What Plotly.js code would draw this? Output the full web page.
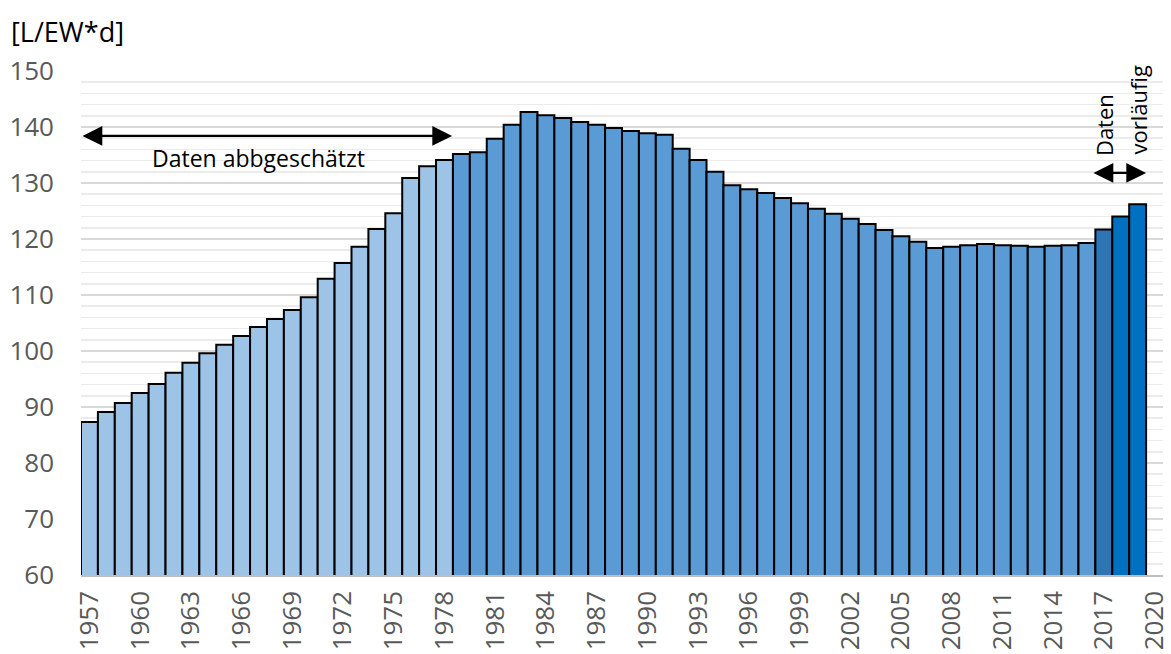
<!DOCTYPE html>
<html>
<head>
<meta charset="utf-8">
<script src="https://cdn.plot.ly/plotly-3.0.1.min.js"></script>
<style>html,body{margin:0;padding:0;background:#fff;}#chart{width:1171px;height:654px;}</style>
</head>
<body>
<div id="chart"></div>
<script>
const years = [];
for (let y = 1957; y <= 2019; y++) years.push(y);
const values = [
  87.3, 89.1, 90.7, 92.5, 94.1, 96.1, 97.9, 99.6, 101.1, 102.7,
  104.3, 105.7, 107.3, 109.6, 112.9, 115.7, 118.6, 121.8, 124.6, 130.9,
  133.0, 134.1, 135.2, 135.5, 137.9, 140.4, 142.7, 142.1, 141.6, 140.9,
  140.4, 139.8, 139.3, 138.9, 138.6, 136.1, 134.1, 132.0, 129.6, 128.9,
  128.2, 127.3, 126.4, 125.4, 124.5, 123.6, 122.7, 121.6, 120.5, 119.5,
  118.4, 118.6, 118.9, 119.1, 118.9, 118.8, 118.6, 118.8, 118.9, 119.3,
  121.7, 124.0, 126.2
];
const tickYears = [1957,1960,1963,1966,1969,1972,1975,1978,1981,1984,1987,1990,1993,1996,1999,2002,2005,2008,2011,2014,2017,2020];
const colEstimated = '#9DC3E6', colMeasured = '#5B9BD5', colTransition = '#2E75B6', colPreliminary = '#0070C0';
const colors = years.map(y => y <= 1978 ? colEstimated : (y <= 2016 ? colMeasured : (y === 2017 ? colTransition : colPreliminary)));

const font = 'Open Sans, sans-serif';
const data = [{
  type: 'bar', x: years, y: values,
  marker: {color: colors, line: {color: '#000', width: 2}},
  width: 1, hoverinfo: 'x+y'
}];
const layout = {
  width: 1171, height: 654,
  margin: {l: 81, r: 8, t: 71, b: 79},
  paper_bgcolor: '#fff', plot_bgcolor: '#fff',
  showlegend: false, bargap: 0,
  xaxis: {
    range: [1956.5, 2020.5], tickmode: 'array', tickvals: tickYears, ticktext: tickYears.map(String),
    tickangle: -90, tickfont: {family: font, size: 26, color: '#595959'},
    showgrid: false, zeroline: false, showline: true, linecolor: '#BFBFBF', linewidth: 1.5,
    ticks: '', ticklabelstandoff: 4, fixedrange: true
  },
  yaxis: {
    range: [60, 150], tickmode: 'linear', tick0: 60, dtick: 10,
    tickfont: {family: font, size: 26, color: '#595959'},
    showgrid: true, gridcolor: '#D9D9D9', gridwidth: 2,
    minor: {dtick: 2, showgrid: true, gridcolor: '#EBEBEB', gridwidth: 1.5, ticks: ''},
    zeroline: false, showline: false, ticks: '', ticklabelstandoff: 26, fixedrange: true
  },
  annotations: [
    {xref: 'paper', yref: 'paper', x: -0.067, y: 1.079, xanchor: 'left', yanchor: 'middle',
     text: '[L/EW*d]', showarrow: false, font: {family: font, size: 27, color: '#000'}},
    {x: 1978.45, y: 138.4, ax: 1956.5, ay: 138.4, axref: 'x', ayref: 'y', xref: 'x', yref: 'y',
     text: '', showarrow: true, arrowhead: 2, startarrowhead: 2, arrowside: 'end+start',
     arrowsize: 1.8, startarrowsize: 1.8, arrowwidth: 2.2, arrowcolor: '#000', standoff: 0, startstandoff: 0},
    {x: 1966.97, y: 134.5, xref: 'x', yref: 'y', text: 'Daten abbgeschätzt', showarrow: false,
     font: {family: font, size: 23, color: '#000'}},
    {x: 2019.5, y: 131.8, ax: 2016.3, ay: 131.8, axref: 'x', ayref: 'y', xref: 'x', yref: 'y',
     text: '', showarrow: true, arrowhead: 2, startarrowhead: 2, arrowside: 'end+start',
     arrowsize: 1.8, startarrowsize: 1.8, arrowwidth: 2.2, arrowcolor: '#000', standoff: 0, startstandoff: 0},
    {x: 2016.97, y: 140.4, xref: 'x', yref: 'y', text: 'Daten', textangle: -90, showarrow: false,
     font: {family: font, size: 22, color: '#000'}},
    {x: 2019.04, y: 143.0, xref: 'x', yref: 'y', text: 'vorläufig', textangle: -90, showarrow: false,
     font: {family: font, size: 22, color: '#000'}}
  ]
};
Plotly.newPlot('chart', data, layout, {displayModeBar: false, staticPlot: true});
</script>
</body>
</html>
